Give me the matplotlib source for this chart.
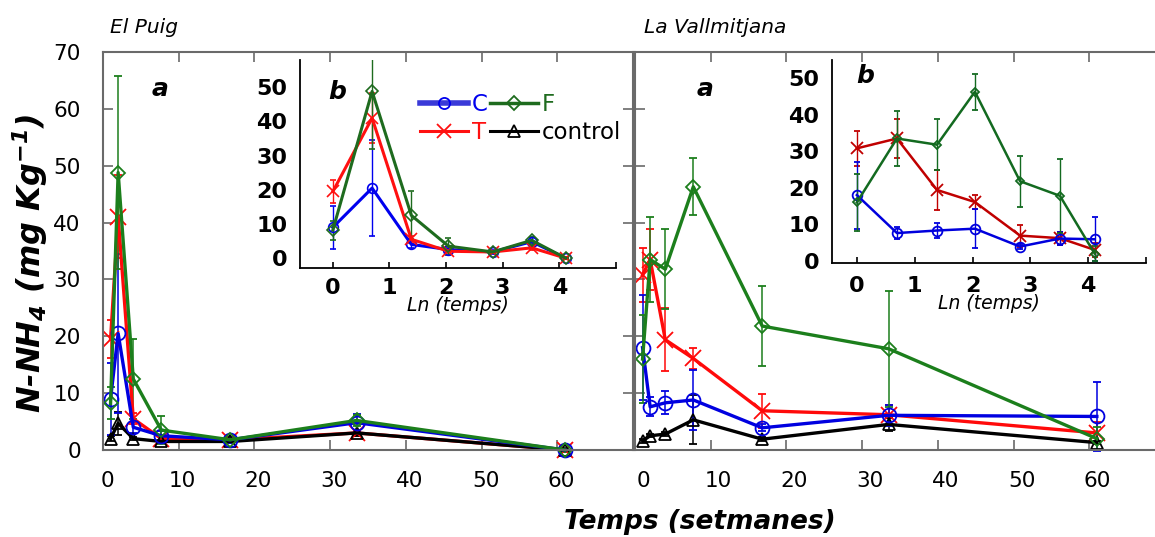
import numpy as np
import matplotlib
matplotlib.use("Agg")
import matplotlib.pyplot as plt
from matplotlib.lines import Line2D
from matplotlib.transforms import ScaledTranslation

plt.rcParams['font.family'] = ['DejaVu Sans']
plt.rcParams['mathtext.default'] = 'regular'

# ---------------- data ----------------
times = [1, 2, 4, 7.7, 16.8, 33.5, 61]          # weeks
series = ['C', 'T', 'F', 'control']

# El Puig
puig_C = [9.0, 20.5, 4.0, 2.5, 1.8, 4.8, 0.0]
puig_C_err = [6.3, 14.0, 1.0, 0.8, 0.5, 1.5, 0.3]
puig_T = [19.5, 41.0, 5.5, 2.0, 1.8, 3.0, 0.0]
puig_T_err = [3.3, 7.3, 1.0, 0.5, 0.3, 0.5, 0.3]
puig_F = [8.2, 48.8, 12.5, 3.5, 1.8, 5.2, 0.0]
puig_F_err = [2.8, 17.0, 7.0, 2.5, 0.3, 1.0, 0.3]
puig_ctrl = [2.0, 4.7, 2.0, 1.5, 1.5, 3.0, 0.0]
puig_ctrl_err = [0.5, 2.0, 0.3, 0.3, 0.3, 0.5, 0.2]

# La Vallmitjana
vall_C = [18.0, 7.6, 8.3, 8.8, 3.9, 6.1, 5.9]
vall_C_err = [9.2, 1.7, 2.0, 5.3, 0.6, 1.8, 6.0]
vall_T = [30.8, 33.5, 19.4, 16.1, 6.9, 6.2, 3.0]
vall_T_err = [4.7, 5.3, 5.5, 1.8, 3.0, 1.8, 2.0]
vall_F = [16.0, 33.5, 31.8, 46.3, 21.8, 17.8, 2.0]
vall_F_err = [7.8, 7.5, 7.0, 5.0, 7.0, 10.2, 2.0]
vall_ctrl = [1.6, 2.5, 2.8, 5.3, 1.9, 4.5, 1.3]
vall_ctrl_err = [0.3, 0.3, 0.3, 4.3, 0.4, 1.2, 0.3]

main_yticks = [0, 10, 20, 30, 40, 50, 60, 70]
main_xticks = [0, 10, 20, 30, 40, 50, 60]
inset_yticks = [0, 10, 20, 30, 40, 50]
inset_xticks = [0, 1, 2, 3, 4, 5]
inset_xticklabels = ['0', '1', '2', '3', '4', '']

# ---------------- styles ----------------
main_col = {'C': '#0000e0', 'T': '#ff0a0a', 'F': '#1c7f1c', 'control': '#000000'}
lin_col = {'C': '#0000ee', 'T': '#ff1010', 'F': '#1e6b1e'}
rin_col = {'C': '#0000dd', 'T': '#c00000', 'F': '#136a20'}
marker = {'C': 'o', 'T': 'x', 'F': 'D', 'control': '^'}
msize = {'C': 10, 'T': 11, 'F': 7, 'control': 8}

W, H = 1155, 537
fig = plt.figure(figsize=(W / 100, H / 100), dpi=100)


def fx(px):
    return px / W


def fy(py):
    return 1 - py / H


ax1 = fig.add_axes([fx(103), fy(450), fx(530), 398 / H])
ax2 = fig.add_axes([fx(635), fy(450), fx(530), 398 / H])

gray = '#6a6a6a'
panels = (
    (ax1, {'C': (puig_C, puig_C_err), 'T': (puig_T, puig_T_err),
           'F': (puig_F, puig_F_err), 'control': (puig_ctrl, puig_ctrl_err)}),
    (ax2, {'C': (vall_C, vall_C_err), 'T': (vall_T, vall_T_err),
           'F': (vall_F, vall_F_err), 'control': (vall_ctrl, vall_ctrl_err)}),
)
for ax, vals in panels:
    for s in ['T', 'control', 'C', 'F']:
        y, e = vals[s]
        ax.errorbar(times, y, yerr=e, color=main_col[s], lw=2.4, elinewidth=1.1,
                    capsize=3, capthick=1.1, marker=marker[s], ms=msize[s],
                    mfc='none', mec=main_col[s], mew=1.3, clip_on=False)
    ax.set_xlim(0, 70)
    ax.set_ylim(0, 70)
    ax.set_xticks(main_xticks)
    ax.set_yticks(main_yticks)
    ax.tick_params(direction='in', length=7, width=1.2, color=gray,
                   top=True, right=True, labelsize=15.5)
    ax.tick_params(axis='x', pad=15)
    ax.tick_params(axis='y', pad=16)
    for sp in ax.spines.values():
        sp.set_color(gray)
        sp.set_linewidth(1.5)
ax2.tick_params(labelleft=False)
for ax, dx in ((ax1, 4), (ax2, 8)):
    for lab in ax.get_xticklabels():
        lab.set_transform(lab.get_transform() + ScaledTranslation(dx / 100, 0, fig.dpi_scale_trans))

ax1.text(7.5, 63.5, 'a', fontsize=18, fontweight='bold', style='italic',
         ha='center', va='center')
ax2.text(9.2, 63.5, 'a', fontsize=18, fontweight='bold', style='italic',
         ha='center', va='center')

fig.text(fx(110), fy(28), 'El Puig', fontsize=14.5, style='italic', ha='left', va='center')
fig.text(fx(644), fy(28), 'La Vallmitjana', fontsize=14.5, style='italic', ha='left', va='center')

fig.text(fx(700), fy(522), 'Temps (setmanes)', fontsize=19, fontweight='bold',
         style='italic', ha='center', va='center')
fig.text(fx(30), fy(263), 'N-NH$_4$ (mg Kg$^{-1}$)', fontsize=23, fontweight='bold',
         style='italic', ha='center', va='center', rotation=90)

# ---------------- insets ----------------
lnt = np.log(times)
axl = fig.add_axes([fx(300), fy(268), fx(316), 208 / H])
axr = fig.add_axes([fx(832), fy(263), fx(314), 203 / H])

for s, y, e in (('C', puig_C, puig_C_err), ('T', puig_T, puig_T_err), ('F', puig_F, puig_F_err)):
    ms = {'C': 7, 'T': 9, 'F': 6}[s]
    axl.errorbar(lnt, y, yerr=e, color=lin_col[s], lw=2.2, elinewidth=1.0, capsize=2.5,
                 capthick=1.0, marker=marker[s], ms=ms, mfc='none', mec=lin_col[s], mew=1.2)
for s, y, e in (('T', vall_T, vall_T_err), ('C', vall_C, vall_C_err), ('F', vall_F, vall_F_err)):
    ms = {'C': 7, 'T': 9, 'F': 4}[s]
    axr.errorbar(lnt, y, yerr=e, color=rin_col[s], lw=1.8, elinewidth=1.0, capsize=2.5,
                 capthick=1.0, marker=marker[s], ms=ms, mfc='none', mec=rin_col[s], mew=1.3)

axl.set_xlim(-0.58, 5.0)
axl.set_ylim(-2.9, 58)
axr.set_xlim(-0.43, 5.0)
axr.set_ylim(-0.6, 55)
for ax, padx in ((axl, 7), (axr, 9)):
    ax.patch.set_alpha(0)
    ax.spines['top'].set_visible(False)
    ax.spines['right'].set_visible(False)
    ax.spines['left'].set_linewidth(1.3)
    ax.spines['bottom'].set_linewidth(1.3)
    ax.set_yticks(inset_yticks)
    ax.set_xticks(inset_xticks)
    ax.set_xticklabels(inset_xticklabels)
    ax.tick_params(axis='x', direction='in', length=4, width=1.2, pad=padx)
    ax.tick_params(axis='y', length=0, pad=9)
    for lab in ax.get_xticklabels() + ax.get_yticklabels():
        lab.set_fontweight('bold')
        lab.set_fontsize(16)
    ax.set_xlabel('Ln (temps)', fontsize=13.5, style='italic', labelpad=-1)

axl.text(0.08, 48.5, 'b', fontsize=18, fontweight='bold', style='italic', ha='center', va='center')
axr.text(0.15, 50.5, 'b', fontsize=18, fontweight='bold', style='italic', ha='center', va='center')

# legend
handles = [
    Line2D([], [], color='#3a3ad8', lw=4, marker='o', ms=8, mfc='none', mec='#0000ee', mew=1.3),
    Line2D([], [], color=lin_col['T'], lw=2.2, marker='x', ms=10, mec=lin_col['T'], mew=1.3),
    Line2D([], [], color=lin_col['F'], lw=2.5, marker='D', ms=7, mfc='none', mec=lin_col['F'], mew=1.3),
    Line2D([], [], color='black', lw=2.2, marker='^', ms=8, mfc='none', mec='black', mew=1.3),
]
labels = ['C', 'T', 'F', 'control']
leg = axl.legend(handles, labels, ncol=2, frameon=False, loc='upper left',
                 bbox_to_anchor=(fx(420), fy(93)), bbox_transform=fig.transFigure,
                 fontsize=16.5, handlelength=2.1, handletextpad=0.15, columnspacing=0.1,
                 labelspacing=0.2, borderpad=0, borderaxespad=0)
for t, c in zip(leg.get_texts(), ['#0000ee', lin_col['T'], lin_col['F'], 'black']):
    t.set_color(c)

fig.savefig('out.png', dpi=100)
